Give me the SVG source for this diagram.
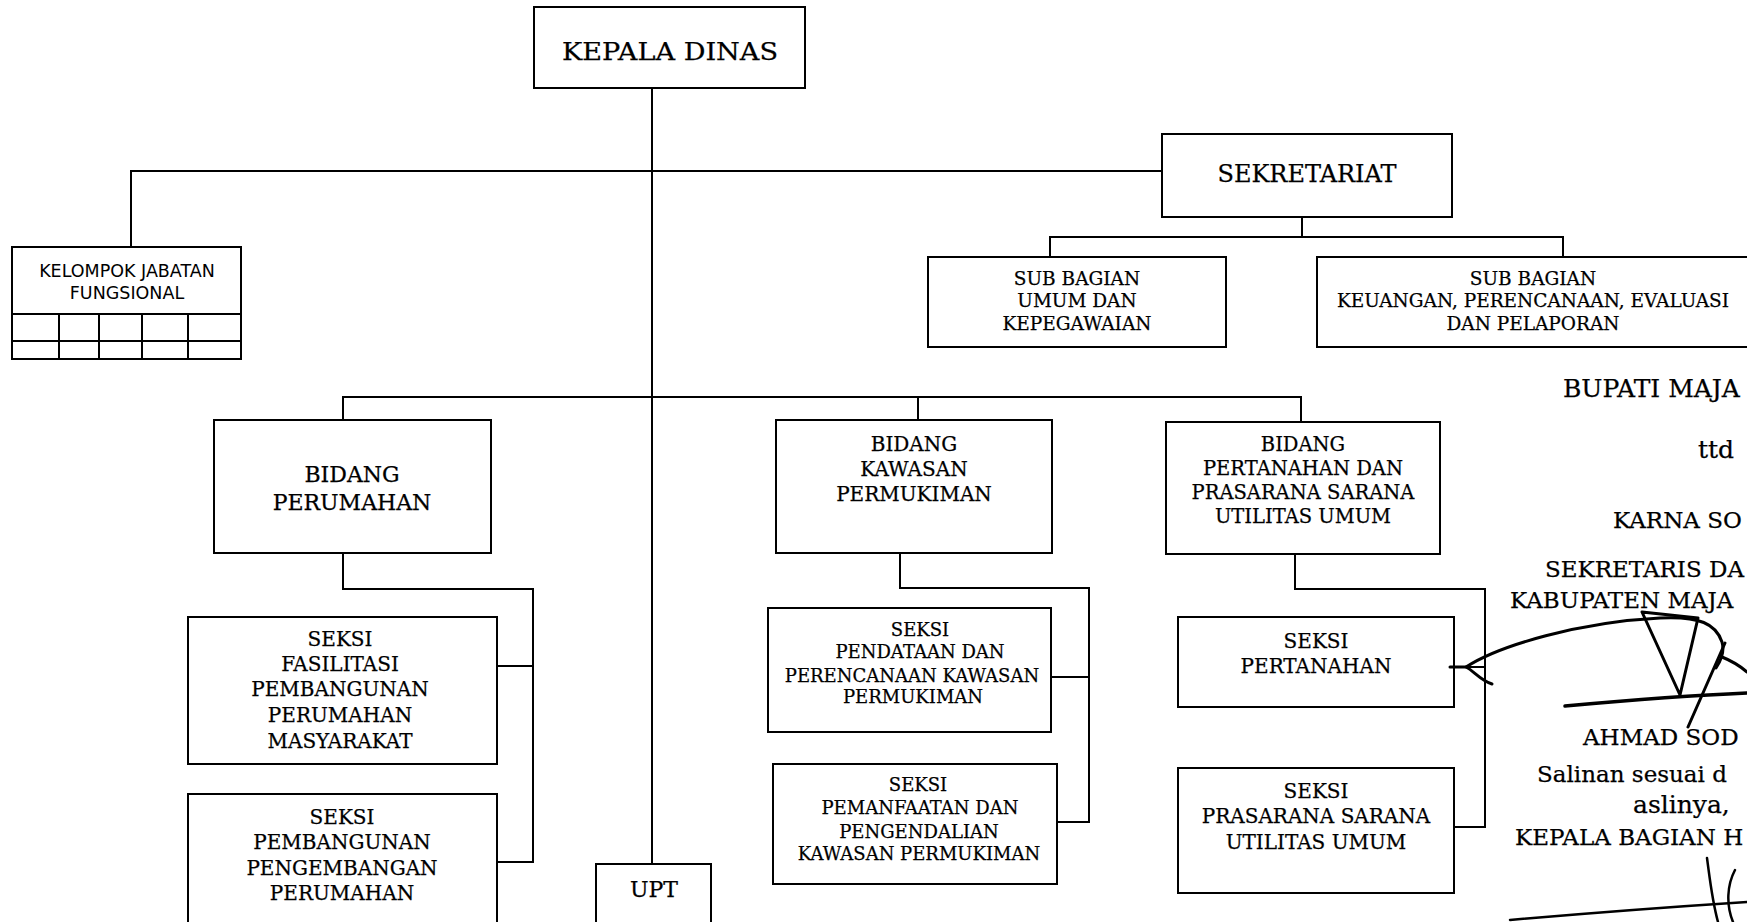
<svg xmlns="http://www.w3.org/2000/svg" width="1747" height="922" viewBox="0 0 1747 922">
<style>
.box{fill:#fff;stroke:#000;stroke-width:2}
.ln{fill:none;stroke:#000;stroke-width:2}
.sig{fill:none;stroke:#000;stroke-width:3;stroke-linecap:round;stroke-linejoin:round}
.t{font-family:'DejaVu Serif','Liberation Serif',serif;text-anchor:middle;fill:#000;stroke:#000;stroke-width:0.25}
.s{font-family:'DejaVu Sans','Liberation Sans',sans-serif;text-anchor:middle;fill:#000;font-size:17.5px}
.r{font-family:'DejaVu Serif','Liberation Serif',serif;fill:#000;font-size:25px;stroke:#000;stroke-width:0.25}
.rs{font-size:23px}
.f25{font-size:25px}.f24{font-size:24px}.f22{font-size:22px}.f20{font-size:20px}.f19{font-size:19.5px}.f18{font-size:18px}.f185{font-size:18.5px}
</style>
<rect width="1747" height="922" fill="#fff"/>
<g id="connectors">
<path class="ln" d="M652,88 V864"/>
<path class="ln" d="M131,247 V171 H1162"/>
<path class="ln" d="M1302,217 V237 M1050,257 V237 H1563 V257"/>
<path class="ln" d="M343,420 V397 H1301 V422 M918,397 V420"/>
<path class="ln" d="M343,553 V589 H533 V862 H497 M497,666 H533"/>
<path class="ln" d="M900,553 V588 H1089 V822 H1057 M1051,677 H1089"/>
<path class="ln" d="M1295,554 V589 H1485 V827 H1453 M1453,667 H1485"/>
</g>
<g id="kepala-dinas">
<rect class="box" x="534" y="7" width="271" height="81"/>
<text class="t f25" x="670" y="60" textLength="216" lengthAdjust="spacingAndGlyphs">KEPALA DINAS</text>
</g>
<g id="kelompok-jabatan-fungsional">
<rect class="box" x="12" y="247" width="229" height="112"/>
<path class="ln" d="M12,314 H241 M12,341 H241 M59,314 V359 M99,314 V359 M142,314 V359 M188,314 V359"/>
<text class="s" x="127" y="277">KELOMPOK JABATAN</text>
<text class="s" x="127" y="299">FUNGSIONAL</text>
</g>
<g id="sekretariat">
<rect class="box" x="1162" y="134" width="290" height="83"/>
<text class="t f24" x="1307" y="182">SEKRETARIAT</text>
</g>
<g id="sub-bagian-umum">
<rect class="box" x="928" y="257" width="298" height="90"/>
<text class="t f185" x="1077" y="285">SUB BAGIAN</text>
<text class="t f185" x="1077" y="307">UMUM DAN</text>
<text class="t f185" x="1077" y="330">KEPEGAWAIAN</text>
</g>
<g id="sub-bagian-keuangan">
<rect class="box" x="1317" y="257" width="440" height="90"/>
<text class="t f185" x="1533" y="285">SUB BAGIAN</text>
<text class="t f185" x="1533" y="307">KEUANGAN, PERENCANAAN, EVALUASI</text>
<text class="t f185" x="1533" y="330">DAN PELAPORAN</text>
</g>
<g id="bidang-perumahan">
<rect class="box" x="214" y="420" width="277" height="133"/>
<text class="t f22" x="352" y="482">BIDANG</text>
<text class="t f22" x="352" y="510">PERUMAHAN</text>
</g>
<g id="bidang-kawasan-permukiman">
<rect class="box" x="776" y="420" width="276" height="133"/>
<text class="t f20" x="914" y="451">BIDANG</text>
<text class="t f20" x="914" y="476">KAWASAN</text>
<text class="t f20" x="914" y="501">PERMUKIMAN</text>
</g>
<g id="bidang-pertanahan">
<rect class="box" x="1166" y="422" width="274" height="132"/>
<text class="t f19" x="1303" y="451">BIDANG</text>
<text class="t f19" x="1303" y="475">PERTANAHAN DAN</text>
<text class="t f19" x="1303" y="499">PRASARANA SARANA</text>
<text class="t f19" x="1303" y="523">UTILITAS UMUM</text>
</g>
<g id="seksi-fasilitasi">
<rect class="box" x="188" y="617" width="309" height="147"/>
<text class="t f20" x="340" y="646">SEKSI</text>
<text class="t f20" x="340" y="671">FASILITASI</text>
<text class="t f20" x="340" y="696">PEMBANGUNAN</text>
<text class="t f20" x="340" y="722">PERUMAHAN</text>
<text class="t f20" x="340" y="748">MASYARAKAT</text>
</g>
<g id="seksi-pembangunan">
<rect class="box" x="188" y="794" width="309" height="140"/>
<text class="t f20" x="342" y="824">SEKSI</text>
<text class="t f20" x="342" y="849">PEMBANGUNAN</text>
<text class="t f20" x="342" y="875">PENGEMBANGAN</text>
<text class="t f20" x="342" y="900">PERUMAHAN</text>
</g>
<g id="upt">
<rect class="box" x="596" y="864" width="115" height="70"/>
<text class="t f22" x="654" y="897">UPT</text>
</g>
<g id="seksi-pendataan">
<rect class="box" x="768" y="608" width="283" height="124"/>
<text class="t f18" x="920" y="636">SEKSI</text>
<text class="t f18" x="920" y="658">PENDATAAN DAN</text>
<text class="t f18" x="912" y="682">PERENCANAAN KAWASAN</text>
<text class="t f18" x="913" y="703">PERMUKIMAN</text>
</g>
<g id="seksi-pemanfaatan">
<rect class="box" x="773" y="764" width="284" height="120"/>
<text class="t f18" x="918" y="791">SEKSI</text>
<text class="t f18" x="920" y="814">PEMANFAATAN DAN</text>
<text class="t f18" x="919" y="838">PENGENDALIAN</text>
<text class="t f18" x="919" y="860">KAWASAN PERMUKIMAN</text>
</g>
<g id="seksi-pertanahan">
<rect class="box" x="1178" y="617" width="276" height="90"/>
<text class="t f20" x="1316" y="648">SEKSI</text>
<text class="t f20" x="1316" y="673">PERTANAHAN</text>
</g>
<g id="seksi-prasarana">
<rect class="box" x="1178" y="768" width="276" height="125"/>
<text class="t f20" x="1316" y="798">SEKSI</text>
<text class="t f20" x="1316" y="823">PRASARANA SARANA</text>
<text class="t f20" x="1316" y="849">UTILITAS UMUM</text>
</g>
<g id="signature-block">
<text class="r" x="1563" y="397">BUPATI MAJA</text>
<text class="r" x="1698" y="458">ttd</text>
<text class="r rs" x="1613" y="528">KARNA SO</text>
<text class="r rs" x="1545" y="577">SEKRETARIS DA</text>
<text class="r rs" x="1510" y="608">KABUPATEN MAJA</text>
<text class="r rs" x="1583" y="745">AHMAD SOD</text>
<text class="r rs" x="1537" y="782">Salinan sesuai d</text>
<text class="r" x="1633" y="813">aslinya,</text>
<text class="r rs" x="1515" y="845">KEPALA BAGIAN H</text>
<path class="sig" d="M1450,667 L1466,667 C1500,645 1580,622 1660,618 C1700,616 1716,624 1722,642 C1725,652 1720,662 1716,668"/>
<path class="sig" d="M1466,667 C1474,671 1480,680 1492,684"/>
<path class="sig" d="M1642,612 L1680,695 L1698,618 Z"/>
<path class="sig" d="M1565,706 C1620,701 1700,695 1747,693" style="stroke-width:3.5"/>
<path class="sig" d="M1688,727 L1725,643 M1722,657 C1732,661 1740,666 1747,672"/>
<path class="sig" d="M1510,920 C1590,913 1670,907 1747,902" style="stroke-width:2.5"/>
<path class="sig" d="M1707,858 C1710,880 1712,900 1718,922 M1735,870 C1727,885 1726,905 1733,922" style="stroke-width:2.5"/>
</g>
</svg>
